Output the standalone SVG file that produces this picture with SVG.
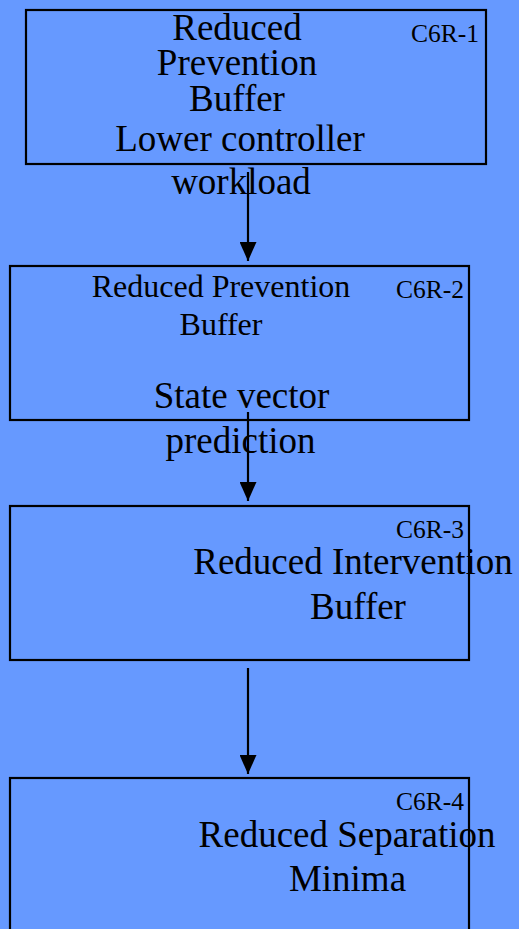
<svg xmlns="http://www.w3.org/2000/svg" width="519" height="929" viewBox="0 0 519 929">
  <style>
    .box { fill: none; stroke: #000; stroke-width: 2.2; }
    .t { font-family: "Liberation Serif", "Times New Roman", serif; fill: #000; }
    .big { font-size: 37px; text-anchor: middle; }
    .mid { font-size: 32px; text-anchor: middle; }
    .tag { font-size: 25.5px; text-anchor: end; }
    .edge { stroke: #000; stroke-width: 2.2; fill: none; }
  </style>
  <defs>
    <marker id="arrow" viewBox="0 0 19 17" refX="19" refY="8.5" markerWidth="19" markerHeight="17" markerUnits="userSpaceOnUse" orient="auto">
      <path d="M0,0 L19,8.5 L0,17 Z" fill="#000"/>
    </marker>
  </defs>
  <rect width="519" height="929" fill="#6699FF"/>

  <g id="connectors">
    <line class="edge" x1="248" y1="172" x2="248" y2="261" marker-end="url(#arrow)"/>
    <line class="edge" x1="248" y1="412" x2="248" y2="501" marker-end="url(#arrow)"/>
    <line class="edge" x1="248" y1="668" x2="248" y2="774" marker-end="url(#arrow)"/>
  </g>

  <g id="c6r-1">
    <rect class="box" x="26" y="10" width="460" height="154"/>
    <text class="t tag" x="479" y="42">C6R-1</text>
    <text class="t big" x="237" y="40">Reduced</text>
    <text class="t big" x="237" y="75">Prevention</text>
    <text class="t big" x="237" y="111">Buffer</text>
    <text class="t big" x="240" y="151">Lower controller</text>
    <text class="t big" x="241" y="194">workload</text>
  </g>

  <g id="c6r-2">
    <rect class="box" x="10" y="266" width="459" height="154"/>
    <text class="t tag" x="464" y="298">C6R-2</text>
    <text class="t mid" x="221" y="297">Reduced Prevention</text>
    <text class="t mid" x="221" y="335">Buffer</text>
    <text class="t big" x="241.5" y="408">State vector</text>
    <text class="t big" x="240.5" y="453">prediction</text>
  </g>

  <g id="c6r-3">
    <rect class="box" x="10" y="506" width="459" height="154"/>
    <text class="t tag" x="464" y="538">C6R-3</text>
    <text class="t big" x="353" y="574">Reduced Intervention</text>
    <text class="t big" x="358" y="619">Buffer</text>
  </g>

  <g id="c6r-4">
    <rect class="box" x="10" y="778" width="459" height="154"/>
    <text class="t tag" x="464" y="810">C6R-4</text>
    <text class="t big" x="347" y="847">Reduced Separation</text>
    <text class="t big" x="347.5" y="891">Minima</text>
  </g>
</svg>
